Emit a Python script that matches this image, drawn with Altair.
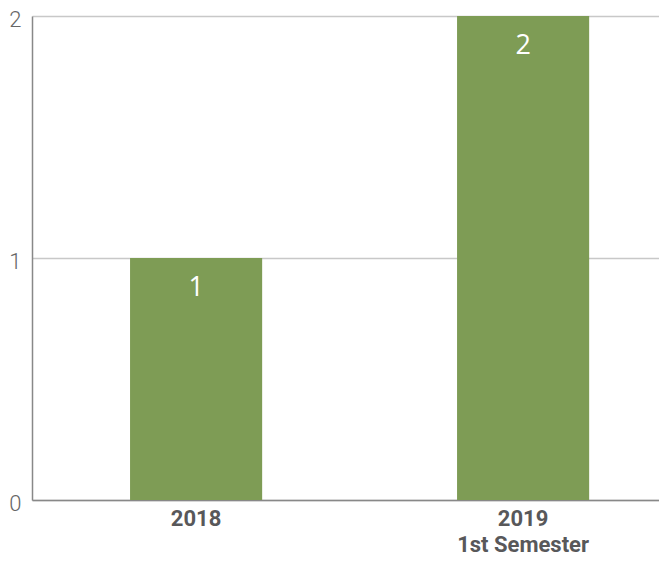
import altair as alt
import pandas as pd

categories = ["2018", "2019|1st Semester"]
values = [1, 2]
y_ticks = [0, 1, 2]

df = pd.DataFrame({"category": categories, "value": values})

x_enc = alt.X(
    "category:N",
    sort=categories,
    scale=alt.Scale(paddingInner=0.596, paddingOuter=0.2567, align=0.584),
    axis=alt.Axis(
        title=None,
        labelAngle=0,
        labelExpr="split(datum.label, '|')",
        labelFont="Roboto",
        labelFontWeight="bold",
        labelFontSize=22,
        labelColor="#58585a",
        labelPadding=8,
        labelLineHeight=26,
        ticks=False,
        domain=True,
        domainColor="#888888",
        domainWidth=1.5,
    ),
)

y_enc = alt.Y(
    "value:Q",
    scale=alt.Scale(domain=[0, 2], nice=False),
    axis=alt.Axis(
        title=None,
        values=y_ticks,
        labelExpr="toString(datum.value)",
        labelOverlap=False,
        labelFont="Roboto",
        labelFontWeight=300,
        labelFontSize=22,
        labelColor="#666666",
        labelPadding=11,
        labelOffset=3,
        ticks=False,
        grid=True,
        gridColor="#c8c8c8",
        gridWidth=1.5,
        domain=True,
        domainColor="#888888",
        domainWidth=1.5,
    ),
)

base = alt.Chart(df).encode(x=x_enc, y=y_enc)

bars = base.mark_bar(color="#7e9c55")

labels = base.mark_text(
    color="white", fontSize=27, font="Open Sans", baseline="middle", dy=30
).encode(text="value:Q")

chart = (
    alt.layer(bars, labels)
    .properties(
        width=627,
        height=484,
        padding={"left": 24, "top": 8, "right": 0, "bottom": 56},
        autosize=alt.AutoSizeParams(type="none"),
    )
    .configure_view(stroke=None)
)

chart.save("out.html", embed_options={"renderer": "svg", "actions": False})
